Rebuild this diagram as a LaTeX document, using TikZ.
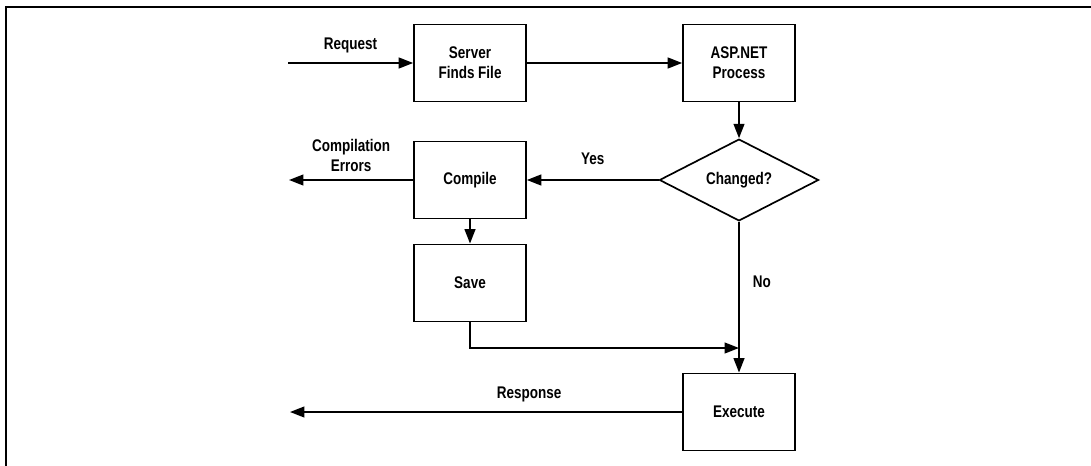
\documentclass[tikz,border=0pt]{standalone}
\usepackage{fontspec}
\setmainfont{Liberation Sans}[FakeStretch=0.8]
\usetikzlibrary{shapes.geometric,arrows.meta}
\tikzset{every picture/.style={line width=1.2pt}}

\begin{document}
\begin{tikzpicture}[x=0.025cm, y=-0.025cm, >={Triangle[length=3.6mm,width=2.7mm]},
    every node/.style={font=\bfseries\fontsize{12}{14}\selectfont},
    stepbox/.style={rectangle, draw, minimum width=2.8cm, minimum height=1.93cm, align=center, inner sep=2pt},
    test/.style={diamond, draw, minimum width=3.98cm, minimum height=1.9cm, inner sep=0pt}]
        \useasboundingbox (0,0) rectangle (1091,466);
        % frame
        \draw (6,466) -- (6,7) -- (1091,7);
        \node[stepbox] (find) at (470, 63)  {Server\\Finds File};
        \node[stepbox] (asp)  at (739, 63)  {ASP.NET\\Process};
        \node[test]    (chg)  at (739, 180) {Changed?};
        \node[stepbox] (comp) at (470, 180) {Compile};
        \node[stepbox] (save) at (470, 283) {Save};
        \node[stepbox] (exec) at (739, 412) {Execute};
        \coordinate (req)  at (288, 63);
        \coordinate (err)  at (289, 180);
        \coordinate (join) at (739, 348);
        \coordinate (resp) at (290, 412);
        \draw[->] (req) -- node[above=3pt]{Request} (find);
        \draw[->] (find) -- (asp);
        \draw[->] (asp) -- (chg);
        \draw[->] (chg) -- node[above=7pt]{Yes} (comp);
        \draw[->] (comp) -- node[above=2pt, align=center]{Compilation\\Errors} (err);
        \draw[->] (comp) -- (save);
        \draw[->] (save.south) |- (join);
        \draw[->] (chg.south) -- node[right=6pt, pos=0.4]{No} (exec);
        \draw[->] (exec) -- node[above=3pt, pos=0.39]{Response} (resp);
    \end{tikzpicture}
\end{document}
